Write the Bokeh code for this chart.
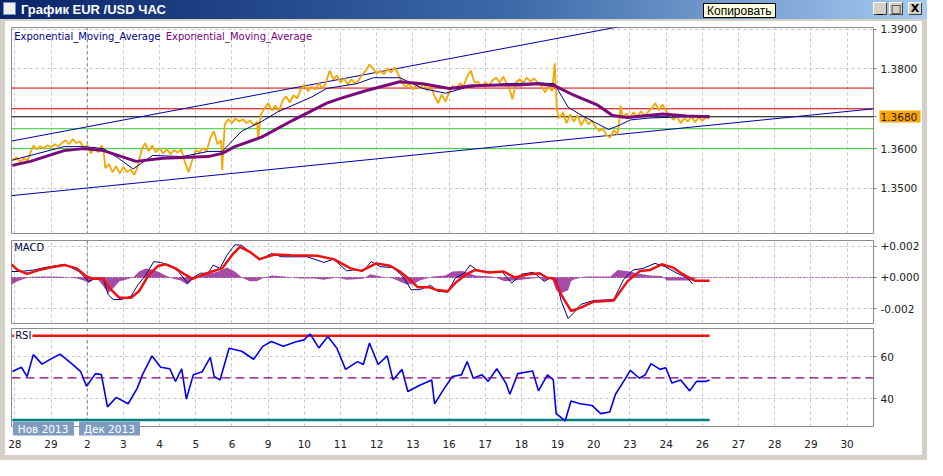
from bokeh.plotting import figure
from bokeh.layouts import column, row
from bokeh.models import Range1d, FixedTicker, Span, Label, Div, CustomJSTickFormatter
from bokeh.embed import file_html
from bokeh.resources import INLINE
from bokeh.core.validation import silence
from bokeh.core.validation.warnings import MISSING_RENDERERS

silence(MISSING_RENDERERS, True)

# ---------------- data (x in trading-day units, 0 = 28 Nov) ----------------
day_labels = ["28", "29", "2", "3", "4", "5", "6", "9", "10", "11", "12", "13",
              "16", "17", "18", "19", "20", "23", "24", "26", "27", "28", "29", "30"]
day_ticks = list(range(len(day_labels)))
month_start = 2
month_tags = ["Нов 2013", "Дек 2013"]
month_tag_pos = [0.78, 2.61]

price_t = [-0.08, 0.05, 0.15, 0.25, 0.35, 0.45, 0.52, 0.60, 0.70, 0.80, 0.90, 1.00, 1.10, 1.20, 1.30,
           1.40, 1.50, 1.60, 1.70, 1.80, 1.90, 2.00, 2.10, 2.20, 2.30, 2.40, 2.45, 2.50, 2.60, 2.70,
           2.80, 2.90, 3.00, 3.10, 3.20, 3.30, 3.40, 3.50, 3.60, 3.70, 3.80, 3.90, 4.00, 4.10, 4.20,
           4.30, 4.40, 4.50, 4.60, 4.70, 4.80, 4.90, 5.00, 5.10, 5.20, 5.30, 5.40, 5.50, 5.60, 5.70,
           5.73, 5.80, 5.90, 6.00, 6.10, 6.20, 6.30, 6.40, 6.50, 6.60, 6.70, 6.72, 6.80, 6.90, 7.00,
           7.10, 7.20, 7.30, 7.40, 7.50, 7.60, 7.70, 7.80, 7.90, 8.00, 8.10, 8.20, 8.30, 8.40, 8.50,
           8.60, 8.70, 8.80, 8.90, 9.00, 9.10, 9.20, 9.30, 9.40, 9.50, 9.60, 9.70, 9.80, 9.90, 10.00,
           10.10, 10.20, 10.30, 10.40, 10.50, 10.60, 10.70, 10.80, 10.90, 11.00, 11.10, 11.20, 11.30,
           11.40, 11.50, 11.60, 11.70, 11.80, 11.90, 12.00, 12.10, 12.20, 12.30, 12.40, 12.50, 12.60,
           12.70, 12.80, 12.90, 13.00, 13.10, 13.20, 13.30, 13.40, 13.50, 13.60, 13.70, 13.75, 13.85,
           13.95, 14.05, 14.15, 14.25, 14.35, 14.45, 14.55, 14.65, 14.75, 14.85, 14.92, 14.98, 15.05,
           15.15, 15.25, 15.35, 15.45, 15.55, 15.65, 15.75, 15.85, 15.95, 16.05, 16.15, 16.25, 16.35,
           16.45, 16.55, 16.65, 16.70, 16.74, 16.80, 16.90, 17.00, 17.10, 17.20, 17.30, 17.40, 17.50,
           17.60, 17.70, 17.80, 17.90, 18.00, 18.10, 18.20, 18.30, 18.40, 18.50, 18.60, 18.70, 18.80,
           18.90, 19.00, 19.10, 19.20]
price_v = [1.3571, 1.3578, 1.3566, 1.3576, 1.3570, 1.3594, 1.3608, 1.3598, 1.3606, 1.3601, 1.3608,
           1.3604, 1.3611, 1.3606, 1.3614, 1.3621, 1.3611, 1.3624, 1.3614, 1.3618, 1.3601, 1.3608,
           1.3588, 1.3604, 1.3591, 1.3608, 1.3596, 1.3551, 1.3561, 1.3541, 1.3556, 1.3538, 1.3554,
           1.3541, 1.3548, 1.3534, 1.3556, 1.3596, 1.3614, 1.3594, 1.3608, 1.3591, 1.3601, 1.3588,
           1.3599, 1.3586, 1.3596, 1.3590, 1.3598, 1.3566, 1.3541, 1.3571, 1.3596, 1.3591, 1.3601,
           1.3594, 1.3626, 1.3644, 1.3611, 1.3621, 1.3546, 1.3661, 1.3674, 1.3664, 1.3676, 1.3668,
           1.3674, 1.3664, 1.3671, 1.3658, 1.3668, 1.3624, 1.3686, 1.3701, 1.3714, 1.3696, 1.3708,
           1.3694, 1.3721, 1.3731, 1.3716, 1.3734, 1.3726, 1.3748, 1.3761, 1.3744, 1.3756, 1.3748,
           1.3764, 1.3751, 1.3766, 1.3796, 1.3774, 1.3784, 1.3766, 1.3776, 1.3761, 1.3774, 1.3764,
           1.3771, 1.3786, 1.3796, 1.3811, 1.3801, 1.3788, 1.3796, 1.3786, 1.3801, 1.3791, 1.3804,
           1.3786, 1.3766, 1.3754, 1.3764, 1.3748, 1.3761, 1.3751, 1.3764, 1.3746, 1.3758, 1.3731,
           1.3714, 1.3736, 1.3718, 1.3741, 1.3758, 1.3748, 1.3764, 1.3756, 1.3781, 1.3796, 1.3766,
           1.3768, 1.3756, 1.3766, 1.3758, 1.3771, 1.3778, 1.3766, 1.3781, 1.3761, 1.3741, 1.3724,
           1.3766, 1.3774, 1.3766, 1.3778, 1.3768, 1.3776, 1.3766, 1.3758, 1.3741, 1.3756, 1.3744,
           1.3814, 1.3696, 1.3676, 1.3691, 1.3664, 1.3686, 1.3668, 1.3684, 1.3658, 1.3676, 1.3661,
           1.3671, 1.3654, 1.3644, 1.3651, 1.3634, 1.3628, 1.3646, 1.3636, 1.3664, 1.3708, 1.3676,
           1.3688, 1.3678, 1.3691, 1.3680, 1.3694, 1.3682, 1.3692, 1.3701, 1.3714, 1.3696, 1.3711,
           1.3694, 1.3684, 1.3672, 1.3681, 1.3664, 1.3676, 1.3668, 1.3680, 1.3666, 1.3678, 1.3670,
           1.3679, 1.3676]

ema_fast_t = [-0.07, 1.36, 1.90, 2.45, 2.86, 3.27, 3.81, 4.63, 5.34, 5.73, 6.27, 6.82, 7.26, 8.19,
              8.62, 9.45, 9.91, 10.64, 11.27, 11.90, 12.45, 13.54, 14.47, 14.91, 15.29, 15.73,
              16.41, 16.74, 17.01, 17.56, 18.57, 19.20]
ema_fast_v = [1.3571, 1.3605, 1.3605, 1.3600, 1.3576, 1.3549, 1.3583, 1.3580, 1.3593, 1.3593,
              1.3644, 1.3668, 1.3692, 1.3729, 1.3751, 1.3763, 1.3778, 1.3778, 1.3751, 1.3739,
              1.3753, 1.3763, 1.3765, 1.3763, 1.3704, 1.3680, 1.3648, 1.3660, 1.3672, 1.3677,
              1.3680, 1.3682]

ema_slow_t = [-0.07, 0.43, 1.36, 1.90, 2.45, 3.35, 4.09, 4.63, 5.34, 5.73, 6.08, 6.82, 7.72, 8.62,
              9.00, 9.72, 10.64, 11.27, 12.01, 12.64, 13.38, 14.00, 14.47, 14.91, 15.45, 16.11,
              16.52, 16.93, 17.90, 18.57, 19.20]
ema_slow_v = [1.3558, 1.3568, 1.3595, 1.3600, 1.3595, 1.3568, 1.3576, 1.3578, 1.3580, 1.3588,
              1.3605, 1.3629, 1.3673, 1.3714, 1.3726, 1.3746, 1.3768, 1.3763, 1.3751, 1.3758,
              1.3760, 1.3760, 1.3763, 1.3758, 1.3734, 1.3709, 1.3683, 1.3678, 1.3687, 1.3682,
              1.3680]

trend_upper_t = [-0.093, 23.73]
trend_upper_v = [1.3619, 1.4026]
trend_lower_t = [-0.093, 23.73]
trend_lower_v = [1.3482, 1.3700]

level_values = [1.3752, 1.3700, 1.3680, 1.3650, 1.3600]
last_price = 1.3680
price_grid = [1.35, 1.36, 1.37, 1.38, 1.39]
price_labels = [1.35, 1.36, last_price, 1.38, 1.39]   # 1.3700 is hidden behind the price tag

macd_t = [-0.09, 0.15, 0.54, 0.81, 1.38, 1.77, 2.04, 2.25, 2.45, 2.58, 2.72, 2.94, 3.21, 3.40,
          3.62, 3.84, 4.03, 4.31, 4.52, 4.77, 4.91, 5.13, 5.34, 5.48, 5.67, 5.86, 6.08, 6.27,
          6.55, 6.76, 7.09, 7.37, 7.72, 8.08, 8.54, 8.81, 9.17, 9.36, 9.63, 9.85, 10.10, 10.45,
          10.73, 10.95, 11.19, 11.49, 11.68, 11.96, 12.17, 12.42, 12.58, 12.77, 13.19, 13.46,
          13.73, 14.01, 14.33, 14.63, 14.82, 14.96, 15.10, 15.29, 15.45, 15.64, 16.00, 16.55,
          16.82, 17.09, 17.37, 17.69, 17.97, 18.30, 18.57, 18.73]
macd_v = [0.00038, 0.00038, 0.00048, 0.00063, 0.00084, 0.00038, -0.00025, -0.00004, -0.00015,
          -0.00110, -0.00141, -0.00141, -0.00120, -0.00047, 0.00016, 0.00101, 0.00096, 0.00075,
          0.00038, -0.00036, -0.00003, 0.00027, 0.00027, 0.00079, 0.00058, 0.00142, 0.00209,
          0.00205, 0.00153, 0.00111, 0.00153, 0.00132, 0.00132, 0.00132, 0.00096, 0.00117,
          0.00042, 0.00048, 0.00042, 0.00101, 0.00069, 0.00063, 0.00006, -0.00078, -0.00078,
          -0.00050, -0.00088, -0.00094, -0.00004, 0.00027, 0.00079, 0.00048, 0.00033, 0.00038,
          -0.00036, 0.00021, 0.00033, -0.00025, 0.00000, -0.00015, -0.00151, -0.00262, -0.00225,
          -0.00172, -0.00147, -0.00141, -0.00015, 0.00048, 0.00058, 0.00090, 0.00069, 0.00027,
          0.00000, -0.00042]

signal_t = [-0.09, 0.07, 0.34, 0.62, 0.97, 1.38, 1.71, 1.98, 2.17, 2.45, 2.61, 2.89, 3.21, 3.43,
            3.70, 3.95, 4.17, 4.44, 4.72, 4.91, 5.18, 5.45, 5.73, 6.00, 6.22, 6.49, 6.76, 7.18,
            7.64, 8.35, 8.81, 9.28, 9.58, 9.99, 10.37, 10.64, 10.92, 11.14, 11.46, 11.63, 11.96,
            12.17, 12.45, 12.72, 13.10, 13.51, 13.81, 14.20, 14.50, 14.69, 14.91, 15.10, 15.37,
            15.64, 16.00, 16.55, 16.93, 17.28, 17.56, 17.88, 18.19, 18.46, 18.79, 19.20]
signal_v = [0.00084, 0.00048, 0.00023, 0.00044, 0.00063, 0.00079, 0.00058, 0.00006, -0.00009,
            -0.00009, -0.00067, -0.00130, -0.00130, -0.00088, 0.00016, 0.00073, 0.00084, 0.00058,
            0.00016, -0.00009, 0.00016, 0.00038, 0.00058, 0.00142, 0.00195, 0.00164, 0.00117,
            0.00147, 0.00142, 0.00138, 0.00117, 0.00058, 0.00042, 0.00090, 0.00075, 0.00038,
            -0.00015, -0.00063, -0.00063, -0.00078, -0.00088, -0.00036, 0.00016, 0.00048,
            0.00031, 0.00038, 0.00000, 0.00021, 0.00027, 0.00000, -0.00009, -0.00110, -0.00214,
            -0.00193, -0.00155, -0.00147, -0.00025, 0.00042, 0.00048, 0.00084, 0.00063, 0.00021,
            -0.00021, -0.00021]

hist_t = [-0.09, 0.07, 0.26, 0.48, 0.89, 1.30, 1.71, 1.90, 2.04, 2.17, 2.25, 2.45, 2.58, 2.72,
          2.89, 3.08, 3.27, 3.43, 3.62, 3.81, 3.95, 4.17, 4.36, 4.58, 4.77, 4.91, 5.13, 5.40,
          5.62, 5.86, 6.08, 6.27, 6.49, 6.68, 6.90, 7.09, 7.45, 7.86, 8.27, 8.54, 8.90, 9.17,
          9.63, 9.82, 10.18, 10.45, 10.81, 11.00, 11.19, 11.55, 11.90, 12.09, 12.37, 12.72,
          13.19, 13.54, 13.81, 14.28, 14.55, 14.61, 14.82, 14.96, 15.10, 15.29, 15.37, 15.45,
          15.78, 16.46, 16.66, 17.01, 17.20, 17.56, 17.88, 18.02, 18.38, 18.73, 18.84]
hist_v = [-0.00046, -0.00025, -0.00008, 0.00004, 0.00006, 0.00004, -0.00006, -0.00019, -0.00036,
          -0.00013, 0.00000, -0.00057, -0.00099, -0.00069, -0.00025, -0.00013, 0.00000, 0.00038,
          0.00058, 0.00050, 0.00038, 0.00013, -0.00006, -0.00019, -0.00046, -0.00013, 0.00013,
          0.00025, 0.00038, 0.00063, 0.00038, 0.00000, -0.00025, -0.00025, 0.00000, 0.00013,
          0.00006, -0.00006, -0.00006, -0.00014, 0.00000, -0.00014, -0.00008, 0.00021, 0.00003,
          -0.00006, -0.00044, -0.00044, -0.00019, 0.00006, 0.00013, 0.00038, 0.00041, 0.00013,
          0.00006, -0.00025, -0.00019, -0.00006, 0.00000, -0.00025, 0.00006, -0.00082, -0.00101,
          -0.00082, -0.00025, -0.00013, 0.00006, 0.00006, 0.00048, 0.00038, 0.00025, 0.00013,
          0.00009, -0.00019, -0.00019, -0.00019, 0.00000]
macd_ticks = [-0.002, 0.0, 0.002]

rsi_t = [-0.07, 0.18, 0.34, 0.51, 0.75, 1.00, 1.25, 1.57, 1.82, 1.98, 2.23, 2.39, 2.56, 2.80, 3.13,
         3.38, 3.54, 3.79, 4.03, 4.28, 4.44, 4.61, 4.74, 4.93, 5.18, 5.40, 5.51, 5.67, 5.92, 6.27,
         6.60, 6.85, 7.09, 7.42, 7.75, 7.99, 8.16, 8.40, 8.65, 8.90, 9.14, 9.47, 9.63, 9.80, 10.04,
         10.29, 10.45, 10.70, 10.86, 11.19, 11.52, 11.60, 11.85, 12.09, 12.34, 12.50, 12.67, 12.91,
         13.08, 13.32, 13.57, 13.68, 13.90, 14.31, 14.47, 14.72, 14.88, 14.96, 15.21, 15.37, 15.62,
         15.95, 16.19, 16.44, 16.60, 16.85, 17.01, 17.26, 17.42, 17.58, 17.83, 17.99, 18.16, 18.40,
         18.65, 18.84, 19.09, 19.20]
rsi_v = [53, 55, 50.6, 61, 56.5, 59, 61.2, 56.7, 52.9, 46, 52, 51.5, 36.2, 40.7, 37.7, 45, 52, 60.4,
         55, 54.3, 48.3, 54.3, 39.9, 51.4, 52.9, 59.7, 50.6, 49, 64, 62.6, 58.8, 64.9, 67.2, 65, 67,
         68, 70.8, 64.2, 69.6, 64, 54, 57.7, 56.3, 66.5, 56.3, 60.4, 49, 54, 43.5, 46.5, 49, 37.6,
         44.5, 50.6, 51.4, 57.7, 49.8, 51.4, 48.3, 54.3, 47.5, 42.2, 52, 53.2, 43.8, 51.4, 49, 33,
         29.6, 39, 37.7, 36.9, 33, 33.8, 42.2, 49, 53.5, 49.8, 51.4, 56.7, 54, 54.8, 47.5, 49, 43.8,
         48.3, 48.3, 49]
rsi_high, rsi_mid, rsi_low = 70, 50, 30
rsi_ticks = [40, 60]

# ---------------- styling / geometry ----------------
W = 917
BL, BR = 6, 49
GRID = "#C6C6C6"
FONT = "DejaVu Sans"
level_colors = ["#D80000", "#C80000", "#000000", "#33CC33", "#33CC33"]
xr = Range1d(-0.093, 23.73)


def style_yaxis(ya):
    ya.axis_line_color = None
    ya.major_tick_out = 3
    ya.major_tick_in = 0
    ya.major_tick_line_color = "#808080"
    ya.minor_tick_line_color = None
    ya.major_label_standoff = 4
    ya.major_label_text_font = FONT
    ya.major_label_text_font_size = "10.5px"
    ya.major_label_text_color = "#202020"


def panel(h, yr, top, bottom, with_xaxis):
    p = figure(width=W, height=h, x_range=xr, y_range=Range1d(*yr), y_axis_location="right",
               x_axis_location="below" if with_xaxis else None,
               toolbar_location=None, output_backend="svg",
               min_border_left=BL, min_border_right=BR, min_border_top=top, min_border_bottom=bottom,
               outline_line_color="#8C8C8C", background_fill_color="white",
               border_fill_color="white", margin=0)
    p.xgrid.ticker = FixedTicker(ticks=day_ticks)
    p.xgrid.grid_line_color = GRID
    p.xgrid.grid_line_dash = "3 3"
    p.ygrid.grid_line_color = GRID
    p.ygrid.grid_line_dash = "3 3"
    style_yaxis(p.yaxis[0])
    p.add_layout(Span(location=month_start, dimension="height", line_color="#7C7C7C",
                      line_dash="3 3", line_width=1, level="underlay"))
    return p


# ---- main price panel ----
main = panel(215, (1.3387, 1.3904), 6, 3, False)
main.ygrid.ticker = FixedTicker(ticks=price_grid)
ma = main.yaxis[0]
ma.ticker = FixedTicker(ticks=price_labels, minor_ticks=[last_price])
ma.formatter = CustomJSTickFormatter(code="return tick.toFixed(4);")
# the current-price tag: an orange band drawn as the (only) minor tick of the price axis;
# labels are pulled back next to the frame with a negative standoff
ma.minor_tick_line_color = "#FFA500"
ma.minor_tick_line_width = 12
ma.minor_tick_line_cap = "butt"
ma.minor_tick_in = -6
ma.minor_tick_out = 47
ma.major_label_standoff = -40
for lv, c in zip(level_values, level_colors):
    main.add_layout(Span(location=lv, dimension="width", line_color=c, line_width=1, level="underlay"))
main.line(trend_upper_t, trend_upper_v, line_color="#0000A8", line_width=1)
main.line(trend_lower_t, trend_lower_v, line_color="#0000A8", line_width=1)
main.line(price_t, price_v, line_color="#F6A800", line_width=1.8)
main.line(ema_fast_t, ema_fast_v, line_color="#000090", line_width=1)
main.line(ema_slow_t, ema_slow_v, line_color="#7A0A7A", line_width=3)
main.add_layout(Label(x=-0.02, y=1.3881, text="Exponential_Moving_Average", text_font=FONT,
                      text_font_size="10px", text_color="#000090", text_baseline="middle"))
main.add_layout(Label(x=4.17, y=1.3881, text="Exponential_Moving_Average", text_font=FONT,
                      text_font_size="10px", text_color="#800080", text_baseline="middle"))

# ---- MACD panel ----
macd = panel(89, (-0.00294, 0.00236), 4, 2, False)
macd.yaxis.ticker = FixedTicker(ticks=macd_ticks)
macd.ygrid.ticker = FixedTicker(ticks=macd_ticks)
macd.yaxis.formatter = CustomJSTickFormatter(
    code="return (tick >= 0 ? '+' : '') + tick.toFixed(3);")
macd.add_layout(Span(location=0, dimension="width", line_color="#800080", line_dash="1 2",
                     line_width=1, level="underlay"))
macd.varea(x=hist_t, y1=0, y2=hist_v, fill_color="#800080", fill_alpha=0.7)
macd.line(macd_t, macd_v, line_color="#000080", line_width=1)
macd.line(signal_t, signal_v, line_color="#EE1111", line_width=2.5)
macd.add_layout(Label(x=-0.02, y=0.00191, text="MACD", text_font=FONT, text_font_size="10px",
                      text_color="#000040", text_baseline="middle"))

# ---- RSI panel ----
rsi = panel(112, (26.9, 73.4), 3, 9, True)
rsi.yaxis.ticker = FixedTicker(ticks=rsi_ticks)
rsi.ygrid.ticker = FixedTicker(ticks=rsi_ticks)
# month tags: steel-blue bands straddling the frame bottom, drawn as thick ticks of the x axis
xa = rsi.xaxis[0]
xa.ticker = FixedTicker(ticks=month_tag_pos, minor_ticks=[])
xa.major_label_overrides = dict(zip(month_tag_pos, month_tags))
xa.axis_line_color = None
xa.minor_tick_line_color = None
xa.major_tick_line_color = "#7F9CC0"
xa.major_tick_line_width = 61
xa.major_tick_line_cap = "butt"
xa.major_tick_in = 5
xa.major_tick_out = 9
xa.major_label_standoff = -13
xa.major_label_text_font = FONT
xa.major_label_text_font_size = "10.5px"
xa.major_label_text_color = "white"
rsi.add_layout(Span(location=rsi_mid, dimension="width", line_color="#800080", line_dash="9 5",
                    line_width=1.3))
rsi.line([rsi_t[0], rsi_t[-1]], [rsi_high, rsi_high], line_color="#EE1111", line_width=2.5)
rsi.line([rsi_t[0], rsi_t[-1]], [rsi_low, rsi_low], line_color="#008080", line_width=2.5)
rsi.line(rsi_t, rsi_v, line_color="#0000EE", line_width=1.6)
rsi.add_layout(Label(x=-0.02, y=rsi_high, text="RSI", text_font=FONT, text_font_size="10px",
                     text_color="#000040", text_baseline="middle", background_fill_color="white",
                     padding=1))

# ---- day-label strip (time axis) ----
strip = figure(width=W, height=18, x_range=xr, y_range=Range1d(0, 1), x_axis_location="below",
               y_axis_location=None, toolbar_location=None, output_backend="svg",
               min_border_left=BL, min_border_right=BR, min_border_top=0, min_border_bottom=17,
               outline_line_color=None, background_fill_color="white", border_fill_color="white",
               margin=0)
strip.grid.visible = False
sa = strip.xaxis[0]
sa.ticker = FixedTicker(ticks=day_ticks, minor_ticks=[])
sa.major_label_overrides = {i: lab for i, lab in enumerate(day_labels)}
sa.axis_line_color = None
sa.major_tick_line_color = None
sa.minor_tick_line_color = None
sa.major_tick_out = 0
sa.major_tick_in = 0
sa.major_label_standoff = 1
sa.major_label_text_font = FONT
sa.major_label_text_font_size = "10.5px"
sa.major_label_text_color = "#202020"

# ---------------- window chrome ----------------
GRAY = "#D4D0C8"


def gray_div(w, h):
    return Div(text="", width=w, height=h, margin=0, styles={"background-color": GRAY})


btn = ("position:absolute;top:2px;width:14px;height:13px;background:#D4D0C8;"
       "border-top:1px solid #fff;border-left:1px solid #fff;border-right:1px solid #404040;"
       "border-bottom:1px solid #404040;color:#000;font:bold 11px 'DejaVu Sans';"
       "text-align:center;line-height:12px;")
title_html = (
    '<div style="position:relative;width:927px;height:19px;overflow:hidden;'
    'background:linear-gradient(to right,#0A246A 0%,#3B6AA8 55%,#A6CAF0 100%);">'
    '<div style="position:absolute;left:3px;top:2px;width:13px;height:13px;background:#F0F0F0;'
    'border:1px solid #7090B0;"></div>'
    '<span style="position:absolute;left:21px;top:1px;color:#fff;font-weight:bold;'
    'font-family:\'Liberation Sans Narrow\',\'Liberation Sans\',sans-serif;font-size:13px;'
    'line-height:17px;">График EUR /USD ЧАС</span>'
    '<span style="position:absolute;left:703px;top:3px;height:15px;padding:0 3px;background:#FFFFE1;'
    'border:1px solid #000;color:#000;font-family:\'Liberation Sans Narrow\',\'Liberation Sans\','
    'sans-serif;font-size:12px;line-height:15px;">Копировать</span>'
    '<div style="' + btn + 'left:873px;">_</div>'
    '<div style="' + btn + 'left:889px;">□</div>'
    '<div style="' + btn + 'left:908px;">X</div>'
    '</div>'
)
title = Div(text=title_html, width=927, height=19, margin=0)

body = row(gray_div(5, 434), column(main, macd, rsi, strip, spacing=0), gray_div(5, 434), spacing=0)
layout = column(title, gray_div(927, 2), body, gray_div(927, 5), spacing=0)

open("out.html", "w").write(file_html(layout, INLINE, title="График EUR /USD ЧАС"))
